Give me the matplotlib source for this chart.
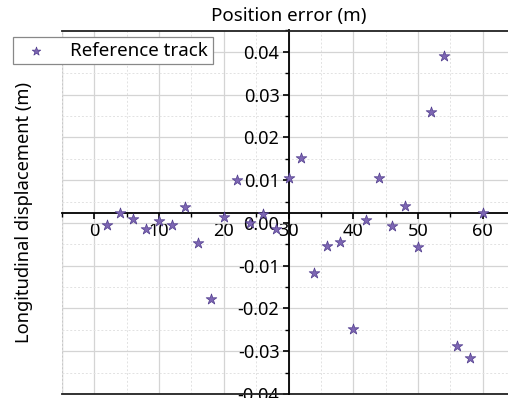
import matplotlib
matplotlib.use("Agg")
import matplotlib.pyplot as plt
from matplotlib.ticker import MultipleLocator, FixedLocator

plt.rcParams['font.family'] = ['Noto Sans', 'DejaVu Sans']
plt.rcParams['axes.unicode_minus'] = False

# Data
x_vals = [2, 4, 6, 8, 10, 12, 14, 16, 18, 20, 22, 24, 26, 28, 30,
          32, 34, 36, 38, 40, 42, 44, 46, 48, 50, 52, 54, 56, 58, 60]
y_vals = [-0.0004, 0.0024, 0.0010, -0.0013, 0.0004, -0.0005, 0.0037, -0.0048,
          -0.0177, 0.0014, 0.0100, 0.0000, 0.0022, -0.0015, 0.0104, 0.0152,
          -0.0118, -0.0055, -0.0045, -0.0247, 0.0008, 0.0105, -0.0008, 0.0039,
          -0.0056, 0.0259, 0.0391, -0.0288, -0.0315, 0.0023]
x_ticks = [0, 10, 20, 30, 40, 50, 60]
y_ticks = [-0.04, -0.03, -0.02, -0.01, 0.00, 0.01, 0.02, 0.03, 0.04]
series_label = "Reference track"
title = "Position error (m)"
ylabel = "Longitudinal displacement (m)"

W, H = 508, 398
fig = plt.figure(figsize=(W / 100, H / 100), dpi=100)
ax = fig.add_axes([62 / W, 4 / H, (515 - 62) / W, (367 - 4 + 0.5) / H])

ax.set_xlim(-5, 65)
ax.set_ylim(-0.04, 0.045)

ax.xaxis.set_major_locator(FixedLocator(x_ticks))
ax.xaxis.set_minor_locator(MultipleLocator(5))
ax.yaxis.set_major_locator(FixedLocator(y_ticks))
ax.yaxis.set_minor_locator(MultipleLocator(0.005))
ax.set_yticklabels([f"{v:.2f}" for v in y_ticks])

ax.grid(True, which='major', color='#d4d4d4', linewidth=0.9, linestyle='-')
ax.grid(True, which='minor', color='#e2e2e2', linewidth=0.7, linestyle=(0, (2, 2)))
ax.set_axisbelow(True)

ax.spines['left'].set_position(('data', 30))
ax.spines['bottom'].set_position(('data', 0.0023))
for s in ['left', 'bottom']:
    ax.spines[s].set_linewidth(1.3)
    ax.spines[s].set_color('black')
ax.spines['top'].set_linewidth(1.3)
ax.spines['top'].set_color('#222222')
ax.spines['right'].set_visible(False)

# left edge line (frame)
ax.axvline(-5, color='#c8c8c8', linewidth=1.0, zorder=0)
ax.axhline(-0.04, color='#222222', linewidth=1.3, zorder=1, clip_on=False)

ax.tick_params(axis='both', which='major', direction='out', length=4.5, width=1.2,
               labelsize=13, pad=2)
ax.tick_params(axis='both', which='minor', direction='out', length=3, width=1.0)

ax.scatter(x_vals, y_vals, marker='*', s=65, facecolor='#7d66b3',
           edgecolor='#4f3b8c', linewidth=0.5, zorder=3, label=series_label)

ax.set_title(title, fontsize=13.5, pad=7)
ax.set_ylabel(ylabel, fontsize=13.2)
ax.yaxis.set_label_coords(-0.064, 0.5)

leg = fig.legend(loc='upper left', bbox_to_anchor=(13 / W, 1 - 37 / H),
                 bbox_transform=fig.transFigure, fontsize=13.5, frameon=True,
                 fancybox=False, framealpha=1, edgecolor='#888888',
                 borderpad=0.25, handlelength=2.0, handletextpad=0.8,
                 borderaxespad=0, markerscale=0.8)
leg.get_frame().set_linewidth(0.9)

fig.savefig("out.png", dpi=100)
